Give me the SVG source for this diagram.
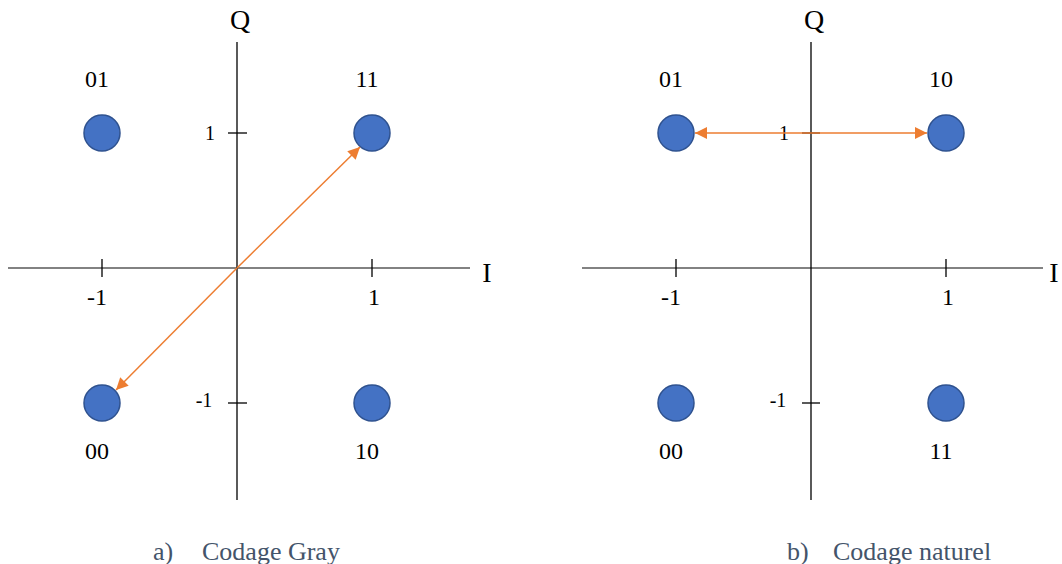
<svg xmlns="http://www.w3.org/2000/svg" width="1062" height="564" viewBox="0 0 1062 564">
<style>
.ax{stroke:#000;stroke-width:1.3;fill:none}
.axh{stroke:#595959;stroke-width:1.5;fill:none}
.pt{fill:#4472c4;stroke:#2f528f;stroke-width:1.5}
text{font-family:"Liberation Serif","Times New Roman",Times,serif}
.t{font-size:24px;fill:#000}
.s{font-size:20px;fill:#000}
.big{font-size:28px;fill:#000}
.cap{font-size:26px;fill:#44546a}
.ar{stroke:#ed7d31;stroke-width:1.5;fill:none}
</style>
<defs>
<marker id="ah" viewBox="0 0 10 10" refX="10" refY="5" markerWidth="9" markerHeight="8" orient="auto-start-reverse" markerUnits="strokeWidth">
<path d="M0,0 L10,5 L0,10 z" fill="#ed7d31"/>
</marker>
</defs>
<g id="axes-a">
<line class="axh" x1="8" y1="268" x2="470" y2="268"/>
<line class="ax" x1="237" y1="42" x2="237" y2="500"/>
<line class="ax" x1="102" y1="259" x2="102" y2="277"/>
<line class="ax" x1="372" y1="259" x2="372" y2="277"/>
<line class="ax" x1="228" y1="133" x2="247" y2="133"/>
<line class="ax" x1="228" y1="403" x2="247" y2="403"/>
<text class="big" x="240" y="29" text-anchor="middle">Q</text>
<text class="big" x="487" y="282" text-anchor="middle">I</text>
<text class="t" x="97" y="305" text-anchor="middle">-1</text>
<text class="t" x="374" y="305" text-anchor="middle">1</text>
<text class="s" x="210" y="140" text-anchor="middle">1</text>
<text class="s" x="204" y="407" text-anchor="middle">-1</text>
</g>
<g id="node-a01"><circle class="pt" cx="102" cy="133" r="18"/><text class="t" x="97" y="87" text-anchor="middle">01</text></g>
<g id="node-a11"><circle class="pt" cx="372" cy="133" r="18"/><text class="t" x="367" y="87" text-anchor="middle">11</text></g>
<g id="node-a00"><circle class="pt" cx="102" cy="403" r="18"/><text class="t" x="97" y="459" text-anchor="middle">00</text></g>
<g id="node-a10"><circle class="pt" cx="372" cy="403" r="18"/><text class="t" x="367" y="459" text-anchor="middle">10</text></g>
<g id="axes-b">
<line class="axh" x1="582" y1="268" x2="1043" y2="268"/>
<line class="ax" x1="811" y1="42" x2="811" y2="500"/>
<line class="ax" x1="676" y1="259" x2="676" y2="277"/>
<line class="ax" x1="946" y1="259" x2="946" y2="277"/>
<line class="ax" x1="802" y1="133" x2="820" y2="133"/>
<line class="ax" x1="802" y1="403" x2="820" y2="403"/>
<text class="big" x="814" y="29" text-anchor="middle">Q</text>
<text class="big" x="1054" y="282" text-anchor="middle">I</text>
<text class="t" x="671" y="305" text-anchor="middle">-1</text>
<text class="t" x="948" y="305" text-anchor="middle">1</text>
<text class="s" x="784" y="140" text-anchor="middle">1</text>
<text class="s" x="778" y="407" text-anchor="middle">-1</text>
</g>
<g id="node-b01"><circle class="pt" cx="676" cy="133" r="18"/><text class="t" x="671" y="87" text-anchor="middle">01</text></g>
<g id="node-b10"><circle class="pt" cx="946" cy="133" r="18"/><text class="t" x="941" y="87" text-anchor="middle">10</text></g>
<g id="node-b00"><circle class="pt" cx="676" cy="403" r="18"/><text class="t" x="671" y="459" text-anchor="middle">00</text></g>
<g id="node-b11"><circle class="pt" cx="946" cy="403" r="18"/><text class="t" x="941" y="459" text-anchor="middle">11</text></g>
<g id="connectors">
<line class="ar" x1="237" y1="268" x2="360" y2="147" marker-end="url(#ah)"/>
<line class="ar" x1="237" y1="268" x2="116" y2="390" marker-end="url(#ah)"/>
<line class="ar" x1="695" y1="133" x2="927" y2="133" marker-start="url(#ah)" marker-end="url(#ah)"/>
</g>
<g id="captions">
<text class="cap" x="153" y="560">a)</text>
<text class="cap" x="202" y="560">Codage Gray</text>
<text class="cap" x="787" y="560">b)</text>
<text class="cap" x="833" y="560">Codage naturel</text>
</g>
</svg>
